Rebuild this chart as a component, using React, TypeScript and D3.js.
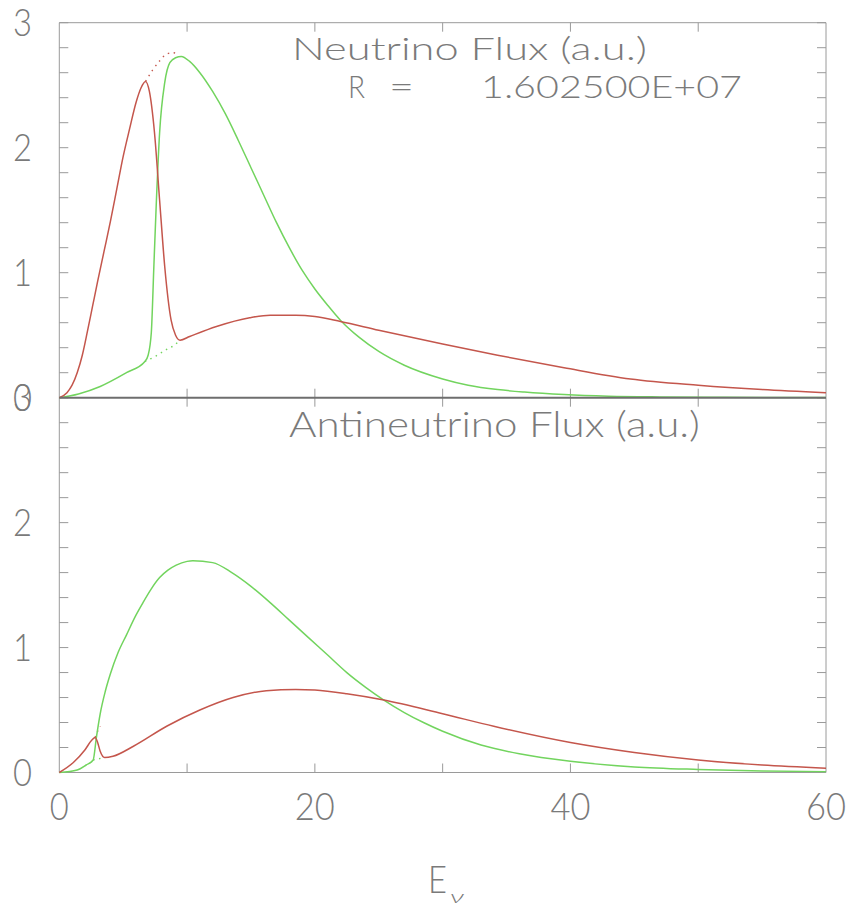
import React from "react";
import * as d3 from "d3";

// ---------- data ----------
// Neutrino panel (top)
const nuRed: [number, number][] = [
  [0, 0], [0.6, 0.04], [1.0, 0.1], [1.4, 0.2], [1.8, 0.34], [2.2, 0.53], [2.6, 0.73], [3.0, 0.93],
  [3.5, 1.17], [4.0, 1.41], [4.5, 1.67], [5.0, 1.93], [5.5, 2.15], [6.0, 2.36], [6.4, 2.48],
  [6.75, 2.53], [7.05, 2.45], [7.45, 2.12], [7.85, 1.58], [8.25, 1.05], [8.75, 0.62], [9.1, 0.5],
  [9.45, 0.46], [10.2, 0.49], [12.3, 0.57], [14.9, 0.64], [16.5, 0.66], [18.5, 0.66], [20, 0.65],
  [22, 0.61], [25, 0.54], [30, 0.43], [34.3, 0.34], [39.5, 0.24], [44.7, 0.15], [50, 0.1],
  [55, 0.065], [60, 0.04],
];
const nuGreen: [number, number][] = [
  [0, 0], [1.5, 0.03], [3.2, 0.09], [5.25, 0.2], [6.7, 0.29], [6.95, 0.34], [7.2, 0.52], [7.4, 1.05],
  [7.6, 1.58], [7.85, 2.12], [8.25, 2.52], [8.65, 2.68], [9.1, 2.72], [9.55, 2.73], [10.2, 2.69],
  [11, 2.6], [12, 2.45], [13, 2.27], [14, 2.06], [15, 1.84], [16, 1.62], [17, 1.4], [18, 1.2],
  [19, 1.02], [20, 0.87], [21, 0.74], [22, 0.62], [23.5, 0.48], [25, 0.37], [27, 0.26], [30, 0.15],
  [32, 0.1], [34.3, 0.065], [36.4, 0.045], [39.5, 0.025], [43, 0.012], [47, 0.006], [52, 0.003],
  [60, 0.001],
];
const nuRedDotted: [number, number][] = [
  [6.75, 2.53], [7.3, 2.62], [7.9, 2.7], [8.4, 2.75], [8.9, 2.76], [9.3, 2.75],
];
const nuGreenDotted: [number, number][] = [
  [6.7, 0.29], [7.5, 0.33], [8.3, 0.38], [9.0, 0.42], [9.45, 0.46],
];

// Antineutrino panel (bottom)
const anuGreen: [number, number][] = [
  [0, 0], [1.4, 0.02], [2.1, 0.06], [2.65, 0.1], [2.9, 0.28], [3.2, 0.47], [3.6, 0.65], [4.0, 0.79],
  [4.6, 0.96], [5.25, 1.1], [6.0, 1.26], [6.55, 1.36], [7.2, 1.47], [7.85, 1.56], [8.5, 1.62],
  [9.15, 1.66], [10, 1.69], [10.45, 1.695], [12, 1.68], [13.5, 1.6], [15, 1.49], [16.5, 1.36],
  [18, 1.22], [19.5, 1.08], [21, 0.94], [22.5, 0.8], [24, 0.68], [25.4, 0.58], [27, 0.48],
  [28.5, 0.4], [30, 0.33], [33, 0.22], [36, 0.15], [40, 0.09], [45, 0.045], [50, 0.025],
  [55, 0.013], [60, 0.007],
];
const anuRed: [number, number][] = [
  [0, 0], [1.1, 0.08], [2.0, 0.18], [2.55, 0.26], [2.8, 0.28], [3.0, 0.24], [3.2, 0.17], [3.55, 0.12],
  [4.2, 0.13], [5.8, 0.21], [8.4, 0.37], [11, 0.5], [13.6, 0.6], [16.2, 0.655], [18.5, 0.665],
  [20, 0.66], [22.5, 0.63], [25.4, 0.58], [30, 0.47], [34, 0.37], [40, 0.24], [45, 0.16], [50, 0.1],
  [55, 0.06], [60, 0.035],
];
const anuRedDotted: [number, number][] = [[2.8, 0.28], [3.0, 0.33], [3.2, 0.37]];
const anuGreenDotted: [number, number][] = [[2.65, 0.1], [3.1, 0.11], [3.55, 0.12]];

const xTickValues = [0, 10, 20, 30, 40, 50, 60];
const xTickLabels = [0, 20, 40, 60];
const yTickLabels = [0, 1, 2, 3];
const yMinorTicks = d3.range(0, 3.0001, 0.2);
const topTitle = "Neutrino Flux (a.u.)";
const rLabel = "R";
const rEq = "=";
const rValue = "1.602500E+07";
const bottomTitle = "Antineutrino Flux (a.u.)";

// ---------- layout ----------
const W = 850, H = 908;
const x = d3.scaleLinear().domain([0, 60]).range([59.3, 826]);
const yTop = d3.scaleLinear().domain([0, 3]).range([397.7, 22.7]);
const yBot = d3.scaleLinear().domain([0, 3]).range([772.5, 397.7]);

const RED = "#c4564c";
const GREEN = "#72d45e";
const AXIS = "#9a9a9a";
const TEXT = "#7a7a7a";
const FONT = "Lato, 'DejaVu Sans', sans-serif";

function Txt(props: { x: number; y: number; len: number; children: string; size?: number; anchor?: string; italic?: boolean }) {
  const { x: tx, y: ty, len, children, size = 37, anchor = "start", italic } = props;
  return (
    <text x={tx} y={ty} fontSize={size} fontFamily={FONT} fontWeight={300} fill={TEXT}
      textAnchor={anchor} textLength={len} lengthAdjust="spacingAndGlyphs" fontStyle={italic ? "italic" : "normal"}>
      {children}
    </text>
  );
}

function Panel(props: { y: d3.ScaleLinear<number, number>; isBottom: boolean }) {
  const { y, isBottom } = props;
  const y0 = y(0), y3 = y(3);
  const x0 = x(0), x60 = x(60);
  return (
    <g>
      {/* frame */}
      <line x1={x0} x2={x0} y1={y3} y2={y0} stroke={AXIS} strokeWidth={1} />
      <line x1={x60} x2={x60} y1={y3} y2={y0} stroke={AXIS} strokeWidth={1} />
      {!isBottom && <line x1={x0} x2={x60} y1={y3} y2={y3} stroke={AXIS} strokeWidth={1} />}
      {isBottom && <line x1={x0} x2={x60} y1={y0} y2={y0} stroke={AXIS} strokeWidth={1.2} />}
      {/* y ticks */}
      {yMinorTicks.map((v, i) => (
        <g key={"yt" + i}>
          <line x1={x0} x2={x0 + 9} y1={y(v)} y2={y(v)} stroke={AXIS} strokeWidth={1} />
          <line x1={x60} x2={x60 - 9} y1={y(v)} y2={y(v)} stroke={AXIS} strokeWidth={1} />
        </g>
      ))}
      {/* x ticks */}
      {xTickValues.slice(1, -1).map((v) => (
        <g key={"xt" + v}>
          <line x1={x(v)} x2={x(v)} y1={y0} y2={y0 - 9} stroke={AXIS} strokeWidth={1} />
          <line x1={x(v)} x2={x(v)} y1={y3} y2={y3 + 9} stroke={AXIS} strokeWidth={1} />
        </g>
      ))}
      {/* y labels */}
      {yTickLabels.map((v) => (
        <Txt key={"yl" + v} x={13} y={y(v) + 13} len={19}>{String(v)}</Txt>
      ))}
    </g>
  );
}

function Curve(props: { data: [number, number][]; y: d3.ScaleLinear<number, number>; color: string; dotted?: boolean }) {
  const { data, y, color, dotted } = props;
  const gen = d3.line<[number, number]>().x((d) => x(d[0])).y((d) => y(d[1])).curve(d3.curveMonotoneX);
  return (
    <path d={gen(data) || ""} fill="none" stroke={color} strokeWidth={dotted ? 1.4 : 1.5}
      strokeDasharray={dotted ? "1.5 4.5" : undefined} strokeLinejoin="round" />
  );
}

export default function App() {
  return (
    <svg width={W} height={H} style={{ position: "absolute", left: 0, top: 0, background: "#fff" }}>
      <rect x={0} y={0} width={W} height={H} fill="#fff" />
      <Panel y={yTop} isBottom={false} />
      <Panel y={yBot} isBottom={true} />

      <Curve data={nuRedDotted} y={yTop} color={RED} dotted />
      <Curve data={nuGreenDotted} y={yTop} color={GREEN} dotted />
      <Curve data={nuGreen} y={yTop} color={GREEN} />
      <Curve data={nuRed} y={yTop} color={RED} />

      <Curve data={anuRedDotted} y={yBot} color={RED} dotted />
      <Curve data={anuGreenDotted} y={yBot} color={GREEN} dotted />
      <Curve data={anuGreen} y={yBot} color={GREEN} />
      <Curve data={anuRed} y={yBot} color={RED} />

      {/* middle separator axis */}
      <line x1={x(0)} x2={x(60)} y1={yTop(0)} y2={yTop(0)} stroke="#6e6e6e" strokeWidth={2} />

      {/* x labels */}
      {xTickLabels.map((v) => (
        <Txt key={"xl" + v} x={x(v)} y={820} len={v === 0 ? 19 : 40} anchor="middle">{String(v)}</Txt>
      ))}

      {/* titles */}
      <Txt x={292} y={60} len={355} size={31}>{topTitle}</Txt>
      <Txt x={348} y={98} len={17} size={31}>{rLabel}</Txt>
      <Txt x={389} y={98} len={25} size={31}>{rEq}</Txt>
      <Txt x={481} y={98} len={261} size={31}>{rValue}</Txt>
      <Txt x={289} y={437} len={411} size={35}>{bottomTitle}</Txt>

      {/* axis label E_nu */}
      <Txt x={428} y={893} len={19}>E</Txt>
      <Txt x={450} y={903} len={14} size={17} italic>ν</Txt>
    </svg>
  );
}
